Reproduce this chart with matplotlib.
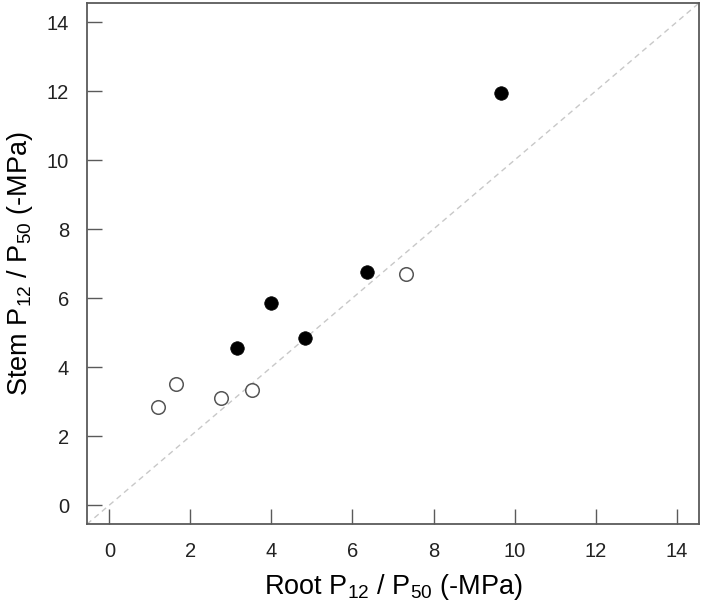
import matplotlib
matplotlib.use("Agg")
import matplotlib.pyplot as plt
import numpy as np

plt.rcParams['font.family'] = ['Liberation Sans', 'DejaVu Sans']
plt.rcParams['mathtext.fontset'] = 'custom'
plt.rcParams['mathtext.rm'] = 'Liberation Sans'
plt.rcParams['mathtext.default'] = 'regular'

# puntos rellenos
root_filled = [3.15, 3.99, 4.83, 6.36, 9.66]
stem_filled = [4.55, 5.85, 4.85, 6.75, 11.93]

# puntos vacios
root_open = [1.19, 1.64, 2.76, 3.52, 7.33]
stem_open = [2.84, 3.52, 3.10, 3.33, 6.71]

ticks = [0, 2, 4, 6, 8, 10, 12, 14]
lims = (-0.55, 14.55)

fig = plt.figure(figsize=(7.03, 6.08), dpi=100)
ax = fig.add_axes([0.1238, 0.138, 0.8705, 0.857])

# linea 1:1
xs = np.array(lims)
ax.plot(xs, xs, linestyle=(0, (4, 3)), color='#c8c8c8', linewidth=1, zorder=1)

ax.scatter(root_open, stem_open, s=95, facecolors='white', edgecolors='#555555',
           linewidths=1.1, zorder=3)
ax.scatter(root_filled, stem_filled, s=95, facecolors='black', edgecolors='black',
           linewidths=0.5, zorder=3)

ax.set_xlim(lims)
ax.set_ylim(lims)
ax.set_xticks(ticks)
ax.set_yticks(ticks)

for s in ax.spines.values():
    s.set_color('#5a5a5a')
    s.set_linewidth(1.3)

ax.tick_params(direction='in', length=11, width=1, color='#5a5a5a',
               labelsize=14.5, pad=13, labelcolor='#222222')

ax.set_xlabel('Root P$_{12}$ / P$_{50}$ (-MPa)', fontsize=19.5, labelpad=8)
ax.set_ylabel('Stem P$_{12}$ / P$_{50}$ (-MPa)', fontsize=19.5, labelpad=8)

fig.savefig('out.png', dpi=100)
